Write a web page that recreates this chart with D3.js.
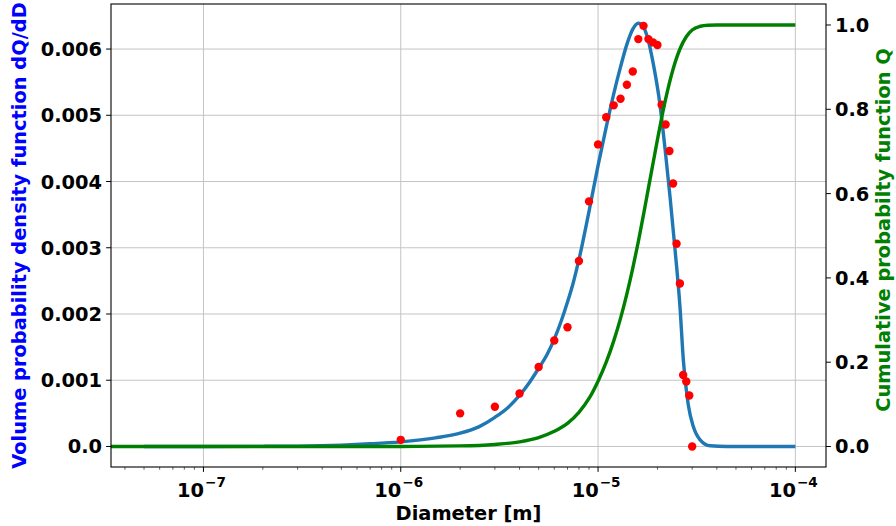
<!DOCTYPE html>
<html>
<head>
<meta charset="utf-8">
<script src="https://cdn.jsdelivr.net/npm/d3@7"></script>
<style>
  body { margin: 0; background: #fff; }
  text { font-family: "DejaVu Sans", sans-serif; font-weight: bold; }
</style>
</head>
<body>
<svg id="chart" width="896" height="526"></svg>
<script>
// fitted density curve (blue)
const pdfDiam = [5e-8, 1e-7, 2e-7, 3e-7, 5e-7, 7e-7, 1e-6, 1.5e-6, 2e-6, 2.5e-6, 3e-6, 3.5e-6, 4e-6, 4.5e-6,
  5e-6, 5.5e-6, 6e-6, 6.5e-6, 7e-6, 7.5e-6, 8e-6, 9e-6, 1e-5, 1.1e-5, 1.2e-5, 1.3e-5, 1.4e-5, 1.5e-5,
  1.6e-5, 1.67e-5, 1.77e-5, 1.91e-5, 2.06e-5, 2.19e-5, 2.32e-5, 2.46e-5, 2.6e-5, 2.71e-5, 2.8e-5,
  2.87e-5, 3.04e-5, 3.29e-5, 3.7e-5, 4.5e-5, 1e-4];
const pdfVal = [0, 0, 0.000002, 0.000005, 0.00002, 0.00004, 0.00007, 0.00013, 0.0002, 0.0003, 0.00044, 0.00059, 0.00077, 0.00097,
  0.00118, 0.00138, 0.00162, 0.00189, 0.00218, 0.00248, 0.00282, 0.00355, 0.00424, 0.00482, 0.00532, 0.00573, 0.00607, 0.0063,
  0.00639, 0.00637, 0.0062, 0.00576, 0.00516, 0.00447, 0.00375, 0.00295, 0.00212, 0.00128, 0.00086,
  0.00062, 0.0003, 0.0001, 0.00001, 0, 0];

// cumulative curve (green)
const cdfDiam = [3e-8, 1e-7, 1e-6, 2e-6, 3e-6, 4e-6, 5e-6, 6e-6, 7e-6, 8e-6, 9e-6, 1e-5, 1.1e-5, 1.2e-5,
  1.3e-5, 1.4e-5, 1.5e-5, 1.6e-5, 1.7e-5, 1.8e-5, 1.9e-5, 2e-5, 2.1e-5, 2.2e-5, 2.4e-5, 2.6e-5, 2.8e-5,
  3e-5, 3.3e-5, 3.6e-5, 4e-5, 1e-4];
const cdfVal = [0, 0, 0.0002, 0.0014, 0.0048, 0.011, 0.021, 0.036, 0.055, 0.081, 0.114, 0.155, 0.2, 0.25,
  0.304, 0.362, 0.423, 0.486, 0.55, 0.613, 0.672, 0.728, 0.779, 0.824, 0.895, 0.943, 0.972,
  0.988, 0.997, 0.9995, 1.0, 1.0];

// measured points (red)
const measDiam = [1e-6, 2e-6, 3e-6, 4e-6, 5e-6, 6e-6, 7e-6, 8e-6, 9e-6, 1e-5, 1.1e-5, 1.2e-5, 1.3e-5,
  1.4e-5, 1.5e-5, 1.6e-5, 1.7e-5, 1.8e-5, 1.9e-5, 2e-5, 2.1e-5, 2.2e-5, 2.3e-5, 2.4e-5, 2.5e-5,
  2.6e-5, 2.7e-5, 2.8e-5, 2.9e-5, 3e-5];
const measVal = [0.0001, 0.0005, 0.0006, 0.0008, 0.0012, 0.0016, 0.0018, 0.0028, 0.0037, 0.00456, 0.00497, 0.00515, 0.00525,
  0.00546, 0.00566, 0.00615, 0.00635, 0.00615, 0.0061, 0.00606, 0.00516, 0.00486, 0.00446, 0.00397, 0.00306,
  0.00246, 0.00108, 0.00098, 0.00077, 0.0];

const xTicks = [1e-7, 1e-6, 1e-5, 1e-4];
const xTickExp = ["\u22127", "\u22126", "\u22125", "\u22124"];
const leftTicks = [0, 0.001, 0.002, 0.003, 0.004, 0.005, 0.006];
const leftTickLabels = ["0.0", "0.001", "0.002", "0.003", "0.004", "0.005", "0.006"];
const rightTicks = [0, 0.2, 0.4, 0.6, 0.8, 1.0];
const rightTickLabels = ["0.0", "0.2", "0.4", "0.6", "0.8", "1.0"];

const L = 111, R = 826, T = 4, B = 467;
const fs = 19.4;

const svg = d3.select("#chart");
const x = d3.scaleLog().domain([3.4e-8, 1.43e-4]).range([L, R]);
const yL = d3.scaleLinear().domain([-0.00031, 0.00668]).range([B, T]);
const yR = d3.scaleLinear().domain([-0.0486, 1.0498]).range([B, T]);

svg.append("defs").append("clipPath").attr("id", "plotclip")
  .append("rect").attr("x", L).attr("y", T).attr("width", R - L).attr("height", B - T);

// grid
svg.append("g").selectAll("line").data(xTicks).join("line")
  .attr("x1", d => x(d)).attr("x2", d => x(d)).attr("y1", T).attr("y2", B)
  .attr("stroke", "#c4c4c4").attr("stroke-width", 1);
svg.append("g").selectAll("line").data(leftTicks).join("line")
  .attr("x1", L).attr("x2", R).attr("y1", d => yL(d)).attr("y2", d => yL(d))
  .attr("stroke", "#c4c4c4").attr("stroke-width", 1);

const plot = svg.append("g").attr("clip-path", "url(#plotclip)");

const pdfLine = d3.line().x(d => x(d[0])).y(d => yL(d[1])).curve(d3.curveMonotoneX);
plot.append("path").datum(d3.zip(pdfDiam, pdfVal))
  .attr("d", pdfLine).attr("fill", "none").attr("stroke", "#1f77b4").attr("stroke-width", 3.4);

plot.append("g").selectAll("circle").data(d3.zip(measDiam, measVal)).join("circle")
  .attr("cx", d => x(d[0])).attr("cy", d => yL(d[1])).attr("r", 4.2).attr("fill", "#ff0000");

const cdfLine = d3.line().x(d => x(d[0])).y(d => yR(d[1])).curve(d3.curveMonotoneX);
plot.append("path").datum(d3.zip(cdfDiam, cdfVal))
  .attr("d", cdfLine).attr("fill", "none").attr("stroke", "#008000").attr("stroke-width", 3.4);

// frame
svg.append("rect").attr("x", L).attr("y", T).attr("width", R - L).attr("height", B - T)
  .attr("fill", "none").attr("stroke", "#000").attr("stroke-width", 1.1);

// bottom ticks, major and minor
const minor = [];
for (let e = -8; e <= -4; e++) for (let k = 2; k <= 9; k++) {
  const v = k * Math.pow(10, e);
  if (v > x.domain()[0] && v < x.domain()[1]) minor.push(v);
}
svg.append("g").selectAll("line").data(minor).join("line")
  .attr("x1", d => x(d)).attr("x2", d => x(d)).attr("y1", B).attr("y2", B + 2.8)
  .attr("stroke", "#000").attr("stroke-width", 0.6);
svg.append("g").selectAll("line").data(xTicks).join("line")
  .attr("x1", d => x(d)).attr("x2", d => x(d)).attr("y1", B).attr("y2", B + 4.9)
  .attr("stroke", "#000").attr("stroke-width", 1);
const xl = svg.append("g").selectAll("text").data(xTicks).join("text")
  .attr("x", d => x(d) - 2).attr("y", 497).attr("text-anchor", "middle")
  .style("font-size", fs + "px");
xl.append("tspan").text("10");
xl.append("tspan").text((d, i) => xTickExp[i]).attr("dy", -10).attr("dx", 1)
  .style("font-size", (fs * 0.7) + "px");

// left ticks
svg.append("g").selectAll("line").data(leftTicks).join("line")
  .attr("x1", L - 4.9).attr("x2", L).attr("y1", d => yL(d)).attr("y2", d => yL(d))
  .attr("stroke", "#000").attr("stroke-width", 1);
svg.append("g").selectAll("text").data(leftTicks).join("text")
  .attr("x", L - 9).attr("y", d => yL(d)).attr("dy", "0.36em").attr("text-anchor", "end")
  .style("font-size", fs + "px").text((d, i) => leftTickLabels[i]);

// right ticks
svg.append("g").selectAll("line").data(rightTicks).join("line")
  .attr("x1", R).attr("x2", R + 4.9).attr("y1", d => yR(d)).attr("y2", d => yR(d))
  .attr("stroke", "#000").attr("stroke-width", 1);
svg.append("g").selectAll("text").data(rightTicks).join("text")
  .attr("x", R + 9).attr("y", d => yR(d)).attr("dy", "0.36em").attr("text-anchor", "start")
  .style("font-size", fs + "px").text((d, i) => rightTickLabels[i]);

// axis titles
svg.append("text").attr("x", (L + R) / 2).attr("y", 520).attr("text-anchor", "middle")
  .style("font-size", fs + "px").text("Diameter [m]");
svg.append("text").attr("transform", "translate(26," + ((T + B) / 2) + ") rotate(-90)")
  .attr("text-anchor", "middle").attr("fill", "#0000ff")
  .style("font-size", fs + "px").text("Volume probability density function dQ/dD");
svg.append("text").attr("transform", "translate(890,230) rotate(-90)")
  .attr("text-anchor", "middle").attr("fill", "#008000")
  .style("font-size", fs + "px").text("Cumulative probabilty function Q");
</script>
</body>
</html>
